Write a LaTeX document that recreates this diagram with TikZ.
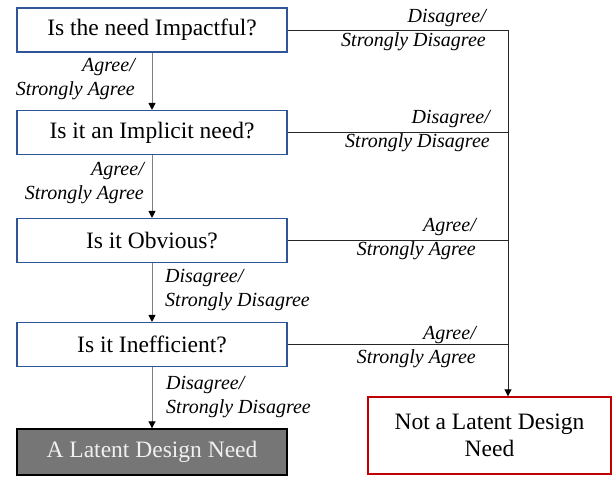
\documentclass[tikz,border=0pt]{standalone}
\usepackage{fontspec}
\setmainfont{Liberation Serif}
\usetikzlibrary{arrows.meta}
\definecolor{boxblue}{HTML}{2F5597}
\definecolor{boxred}{HTML}{C00000}
\definecolor{boxgray}{HTML}{767676}
\definecolor{linegray}{HTML}{7F7F7F}
\definecolor{lightfg}{HTML}{F0F0F0}
\begin{document}
\begin{tikzpicture}[x=1pt,y=-1pt,
  qbox/.style={draw=boxblue, line width=1.1pt, minimum width=270pt, minimum height=44pt, inner sep=0pt,
    font=\fontsize{23.5pt}{27pt}\selectfont},
  endgray/.style={draw=black, fill=boxgray, text=lightfg, line width=1.4pt, minimum width=270pt, minimum height=46pt, inner sep=0pt,
    font=\fontsize{23.5pt}{27pt}\selectfont},
  endred/.style={draw=boxred, line width=1.4pt, minimum width=243pt, minimum height=77pt, inner sep=0pt, align=center,
    font=\fontsize{23.5pt}{27pt}\selectfont},
  lbl/.style={inner sep=0pt, font=\fontsize{20pt}{24pt}\selectfont\itshape},
  varrow/.style={draw=linegray, line width=0.9pt, -{Triangle[width=7pt,length=7pt,color=black]}},
  hline/.style={draw=black!85, line width=0.9pt},
  rarrow/.style={draw=black!85, line width=0.9pt, -{Triangle[width=7pt,length=7pt,color=black]}}
]
\useasboundingbox (0,0) rectangle (612,477);

\node[qbox] (q1) at (152,30) {Is the need Impactful?};
\node[qbox] (q2) at (152,132.5) {Is it an Implicit need?};
\node[qbox] (q3) at (152,240.5) {Is it Obvious?};
\node[qbox] (q4) at (152,344.5) {Is it Inefficient?};
\node[endgray] (yes) at (152,452) {A Latent Design Need};
\node[endred] (no) at (489.5,435.5) {Not a Latent Design\\Need};

\coordinate (rx) at (508,0);

\draw[varrow] (q1.south) -- (q2.north);
\draw[varrow] (q2.south) -- (q3.north);
\draw[varrow] (q3.south) -- (q4.north);
\draw[varrow] (q4.south) -- (yes.north);

\draw[rarrow] (q1.east) -- (q1.east -| rx) -- (no.north -| rx);
\draw[hline] (q2.east) -- (q2.east -| rx);
\draw[hline] (q3.east) -- (q3.east -| rx);
\draw[hline] (q4.east) -- (q4.east -| rx);

\node[lbl, align=right, anchor=east] (l1) at (486,30) {Disagree/\\Strongly Disagree};
\node[lbl, align=right, anchor=east] (l2) at (490,131) {Disagree/\\Strongly Disagree};
\node[lbl, align=right, anchor=east] (l3) at (476,239) {Agree/\\Strongly Agree};
\node[lbl, align=right, anchor=east] (l4) at (476,347) {Agree/\\Strongly Agree};

\node[lbl, align=right, anchor=east] (a1) at (135,79) {Agree/\\Strongly Agree};
\node[lbl, align=right, anchor=east] (a2) at (144,183.5) {Agree/\\Strongly Agree};
\node[lbl, align=left, anchor=west] (a3) at (165,290) {Disagree/\\Strongly Disagree};
\node[lbl, align=left, anchor=west] (a4) at (166,397.5) {Disagree/\\Strongly Disagree};
\end{tikzpicture}
\end{document}
